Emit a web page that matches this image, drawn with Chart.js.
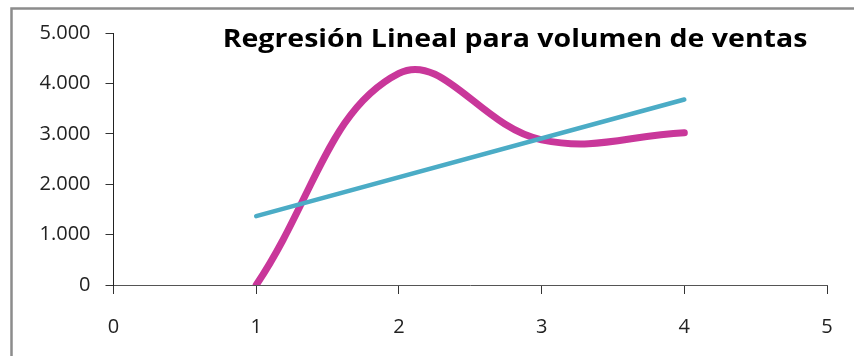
<!DOCTYPE html>
<html>
<head>
<meta charset="utf-8">
<script src="https://cdn.jsdelivr.net/npm/chart.js@4/dist/chart.umd.min.js"></script>
<style>
  html, body { margin: 0; padding: 0; background: #fff; }
  #wrap { width: 854px; height: 356px; position: relative; }
</style>
</head>
<body>
<div id="wrap"><canvas id="c" width="854" height="356"></canvas></div>
<script>
// Ventas observadas por periodo
const periodos = [1, 2, 3, 4];
const ventas = [0, 4200, 2880, 3020];

// Recta de regresión (extremos)
const regresionX = [1, 4];
const regresionY = [1365, 3680];

// Etiquetas de los ejes
const xTickLabels = ['0', '1', '2', '3', '4', '5'];
const yTickLabels = ['0', '1.000', '2.000', '3.000', '4.000', '5.000'];

const titulo = 'Regresión Lineal para volumen de ventas';

const toPoints = (xs, ys) => xs.map((x, i) => ({ x: x, y: ys[i] }));

const FONT = '"Open Sans", "Liberation Sans", sans-serif';

// Marco exterior y título superpuesto al área de trazado
const decor = {
  id: 'decor',
  beforeDraw(chart) {
    const ctx = chart.ctx;
    ctx.save();
    ctx.fillStyle = '#ffffff';
    ctx.fillRect(0, 0, chart.width, chart.height);
    ctx.strokeStyle = '#8c8c8c';
    ctx.lineWidth = 2.5;
    ctx.strokeRect(11.5, 8.5, chart.width + 20, chart.height + 20);
    ctx.restore();
  },
  afterDraw(chart) {
    const ctx = chart.ctx;
    ctx.save();
    ctx.font = 'bold 25px ' + FONT;
    ctx.fillStyle = '#000000';
    ctx.textAlign = 'center';
    ctx.textBaseline = 'alphabetic';
    ctx.translate(515, 47);
    ctx.scale(1.14, 1);
    ctx.fillText(titulo, 0, 0);
    ctx.restore();
  }
};

new Chart(document.getElementById('c'), {
  type: 'scatter',
  data: {
    datasets: [
      {
        label: 'Ventas',
        data: toPoints(periodos, ventas),
        showLine: true,
        borderColor: '#C9379A',
        backgroundColor: '#C9379A',
        borderWidth: 7,
        borderCapStyle: 'round',
        borderJoinStyle: 'round',
        tension: 0.4,
        pointRadius: 0,
        pointHoverRadius: 0,
        clip: { left: 10, right: 10, top: 10, bottom: 0 },
        order: 2
      },
      {
        label: 'Regresión',
        data: toPoints(regresionX, regresionY),
        showLine: true,
        borderColor: '#4BACC6',
        backgroundColor: '#4BACC6',
        borderWidth: 4.5,
        borderCapStyle: 'round',
        tension: 0,
        pointRadius: 0,
        pointHoverRadius: 0,
        order: 1
      }
    ]
  },
  options: {
    responsive: false,
    animation: false,
    events: [],
    layout: { padding: { left: 0, right: 27, top: 33, bottom: 0 } },
    plugins: {
      legend: { display: false },
      title: { display: false },
      tooltip: { enabled: false }
    },
    scales: {
      x: {
        type: 'linear',
        min: 0,
        max: 5,
        afterFit(scale) { scale.height = 71; },
        afterBuildTicks(scale) {
          scale.ticks = xTickLabels.map((t, i) => ({ value: i }));
        },
        border: { display: true, color: '#555555', width: 1 },
        grid: {
          display: true,
          drawOnChartArea: false,
          drawTicks: true,
          tickLength: 9,
          color: '#333333'
        },
        ticks: {
          autoSkip: false,
          maxRotation: 0,
          padding: 21,
          color: '#222222',
          font: { family: FONT, size: 20 },
          callback: (v, i) => xTickLabels[i]
        }
      },
      y: {
        type: 'linear',
        min: 0,
        max: 5000,
        afterFit(scale) { scale.width = 113.5; },
        afterBuildTicks(scale) {
          scale.ticks = yTickLabels.map((t, i) => ({ value: i * 1000 }));
        },
        border: { display: true, color: '#222222', width: 1 },
        grid: {
          display: true,
          drawOnChartArea: false,
          drawTicks: true,
          tickLength: 8,
          color: '#333333'
        },
        ticks: {
          autoSkip: false,
          padding: 15,
          color: '#222222',
          font: { family: FONT, size: 20 },
          callback: (v, i) => yTickLabels[i]
        }
      }
    }
  },
  plugins: [decor]
});
</script>
</body>
</html>
